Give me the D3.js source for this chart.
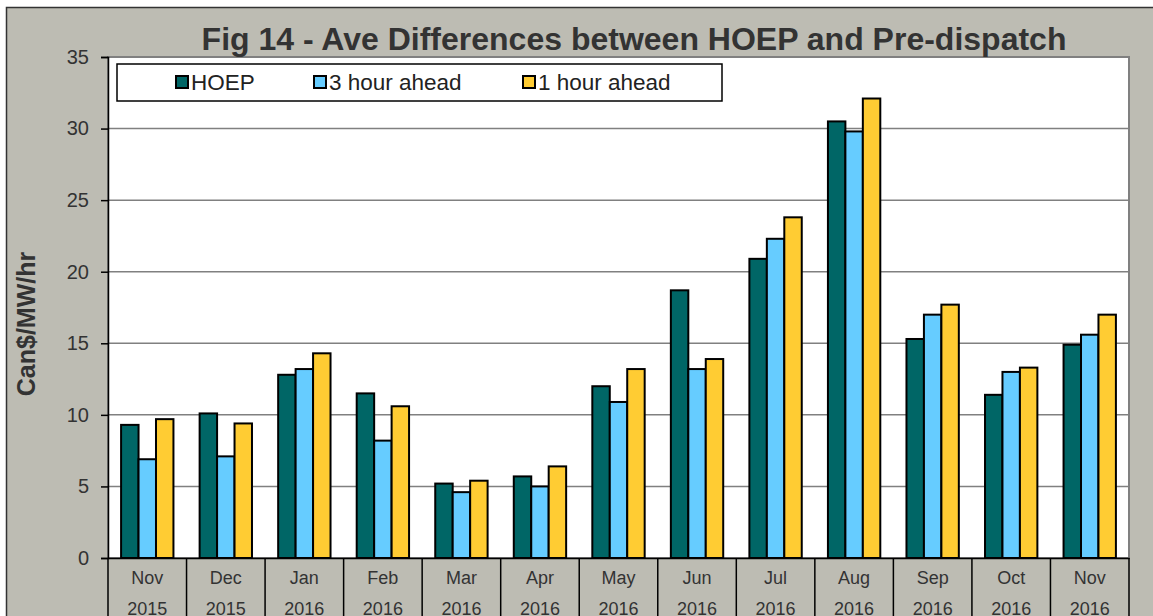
<!DOCTYPE html>
<html><head><meta charset="utf-8">
<script src="https://cdn.jsdelivr.net/npm/d3@7"></script>
<style>body{margin:0;background:#fff}svg{display:block}text{font-family:Arial,"Liberation Sans",sans-serif}</style>
</head><body>
<svg id="c" width="1153" height="616"></svg>
<script>
const months = ["Nov","Dec","Jan","Feb","Mar","Apr","May","Jun","Jul","Aug","Sep","Oct","Nov"];
const years = ["2015","2015","2016","2016","2016","2016","2016","2016","2016","2016","2016","2016","2016"];
const seriesNames = ["HOEP","3 hour ahead","1 hour ahead"];
const hoep = [9.3,10.1,12.8,11.5,5.2,5.7,12.0,18.7,20.9,30.5,15.3,11.4,14.9];
const ahead3 = [6.9,7.1,13.2,8.2,4.6,5.0,10.9,13.2,22.3,29.8,17.0,13.0,15.6];
const ahead1 = [9.7,9.4,14.3,10.6,5.4,6.4,13.2,13.9,23.8,32.1,17.7,13.3,17.0];
const yTicks = [0,5,10,15,20,25,30,35];
const colors = ["#006666","#66CCFF","#FFCC33"];

const svg = d3.select("#c");
const W=1153,H=616;
svg.append("rect").attr("x",0).attr("y",0).attr("width",W).attr("height",H).attr("fill","#fff");
svg.append("rect").attr("x",6.5).attr("y",7.5).attr("width",W).attr("height",H).attr("fill","#BDBCB3").attr("stroke","#333").attr("stroke-width",1.5);

const L=108,R=1129,T=57,B=558;
const x0 = d3.scaleBand().domain(d3.range(months.length)).range([L,R]).paddingInner(0).paddingOuter(0);
const groupW = x0.bandwidth()*3/4.5;
const x1 = d3.scaleBand().domain([0,1,2]).range([0,groupW]).padding(0);
const y = d3.scaleLinear().domain([0,35]).range([B,T]);

svg.append("rect").attr("x",L).attr("y",T).attr("width",R-L).attr("height",B-T).attr("fill","#fff").attr("stroke","#808080").attr("stroke-width",2);

// gridlines
svg.append("g").selectAll("line").data(yTicks.filter(d=>d>0&&d<35)).join("line")
  .attr("x1",L).attr("x2",R).attr("y1",d=>y(d)).attr("y2",d=>y(d)).attr("stroke","#808080").attr("stroke-width",1.5);

// bars
const data = months.map((m,i)=>[hoep[i],ahead3[i],ahead1[i]]);
const g = svg.append("g");
data.forEach((vals,i)=>{
  const gx = x0(i)+(x0.bandwidth()-groupW)/2;
  g.selectAll(null).data(vals).join("rect")
   .attr("x",(d,j)=>gx+x1(j)).attr("y",d=>y(d)).attr("width",x1.bandwidth()).attr("height",d=>B-y(d))
   .attr("fill",(d,j)=>colors[j]).attr("stroke","#000").attr("stroke-width",2);
});

// y axis
const ya = svg.append("g").attr("transform",`translate(${L},0)`).call(d3.axisLeft(y).tickValues(yTicks).tickSize(7).tickPadding(12));
ya.select(".domain").attr("stroke","#000").attr("stroke-width",1.5);
ya.selectAll(".tick line").attr("stroke","#000").attr("stroke-width",1.5);
ya.selectAll("text").attr("font-size",20).attr("fill","#333");

// x axis
const xa = svg.append("g").attr("transform",`translate(0,${B})`).call(d3.axisBottom(x0).tickSize(0).tickFormat(""));
xa.select(".domain").attr("stroke","#000").attr("stroke-width",1.5);
svg.append("g").selectAll("line").data(d3.range(months.length+1)).join("line")
  .attr("x1",i=>i<months.length?x0(i):R).attr("x2",i=>i<months.length?x0(i):R)
  .attr("y1",B).attr("y2",H).attr("stroke","#000").attr("stroke-width",1.5);
svg.append("g").selectAll("text").data(months).join("text")
  .attr("x",(d,i)=>x0(i)+x0.bandwidth()/2).attr("y",584).attr("text-anchor","middle")
  .attr("font-size",18).attr("fill","#333").text(d=>d);
svg.append("g").selectAll("text").data(years).join("text")
  .attr("x",(d,i)=>x0(i)+x0.bandwidth()/2).attr("y",615).attr("text-anchor","middle")
  .attr("font-size",18).attr("fill","#333").text(d=>d);

// title
svg.append("text").attr("x",634).attr("y",50).attr("text-anchor","middle").attr("font-size",32).attr("font-weight","bold").attr("fill","#333")
  .text("Fig 14 - Ave Differences between HOEP and Pre-dispatch");
// y label
svg.append("text").attr("transform","translate(35,324) rotate(-90)").attr("text-anchor","middle").attr("font-size",25).attr("font-weight","bold").attr("fill","#333").text("Can$/MW/hr");

// legend
svg.append("rect").attr("x",117).attr("y",64).attr("width",605).attr("height",37).attr("fill","#fff").attr("stroke","#000").attr("stroke-width",1.5);
const lx=[176,314,523];
const lg = svg.append("g").selectAll("g").data(seriesNames).join("g").attr("transform",(d,i)=>`translate(${lx[i]},82)`);
lg.append("rect").attr("x",0).attr("y",-6).attr("width",12).attr("height",12).attr("fill",(d,i)=>colors[i]).attr("stroke","#000").attr("stroke-width",2);
lg.append("text").attr("x",15).attr("y",8).attr("font-size",22.5).attr("fill","#222").text(d=>d);
</script>
</body></html>
